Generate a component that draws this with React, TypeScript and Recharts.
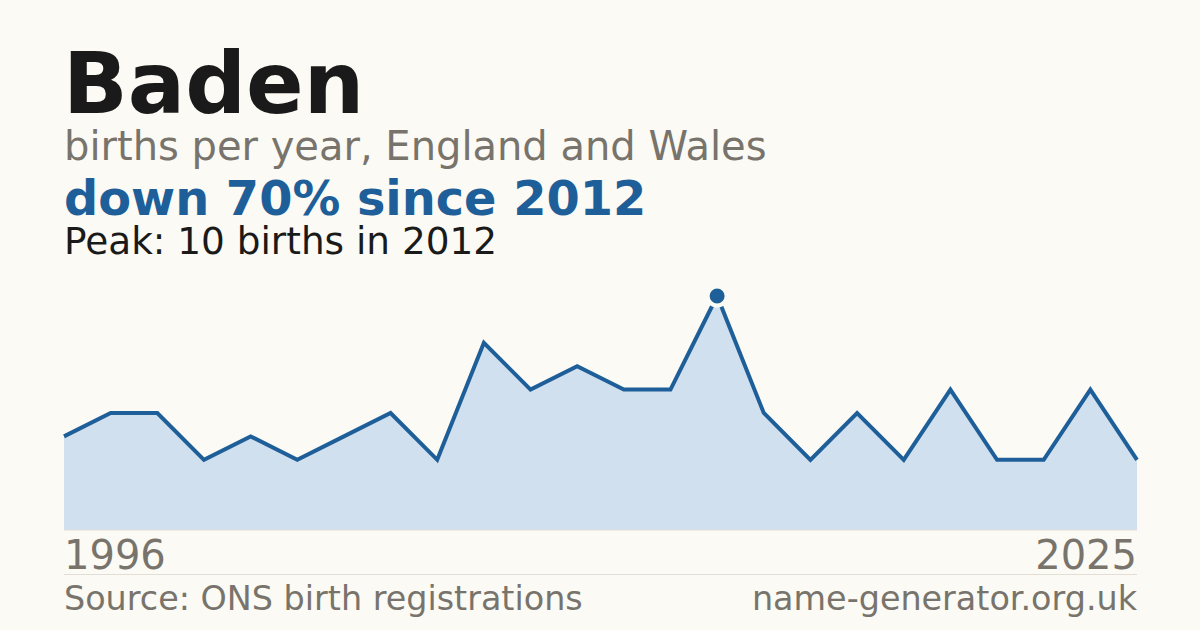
import React from "react";
import { AreaChart, Area, XAxis, YAxis } from "recharts";

const years: number[] = [
  1996, 1997, 1998, 2000, 2001, 2002, 2003, 2005, 2006, 2007, 2008, 2009,
  2010, 2011, 2012, 2013, 2015, 2016, 2018, 2019, 2020, 2022, 2023, 2025,
];

const births: number[] = [
  4, 5, 5, 3, 4, 3, 4, 5, 3, 8, 6, 7, 6, 6, 10, 5, 3, 5, 3, 6, 3, 3, 6, 3,
];

const xTicks: number[] = [1996, 2025];

const BG = "#fbfaf5";
const BLUE = "#1f5f99";
const FILL = "#d0e0ef";
const GREY = "#78746c";
const FONT = "'DejaVu Sans', sans-serif";

const data = years.map((year, i) => ({ year, births: births[i] }));
const peak = Math.max(...births);

const PeakDot = (props: any) => {
  const { cx, cy, payload } = props;
  if (!payload || payload.births !== peak) return null;
  return (
    <circle
      key={`dot-${payload.year}`}
      cx={cx}
      cy={cy}
      r={9.5}
      fill={BLUE}
      stroke={BG}
      strokeWidth={4}
    />
  );
};

const YearTick = (props: any) => {
  const { x, payload } = props;
  const first = payload.value === xTicks[0];
  return (
    <text
      x={x}
      y={569}
      textAnchor={first ? "start" : "end"}
      fontSize={40}
      fontFamily={FONT}
      fill={GREY}
    >
      {payload.value}
    </text>
  );
};

export default function App() {
  return (
    <div
      style={{
        position: "absolute",
        left: 0,
        top: 0,
        width: 1200,
        height: 630,
        background: BG,
        overflow: "hidden",
      }}
    >
      <AreaChart
        width={1200}
        height={630}
        data={data}
        margin={{ top: 296, right: 63, bottom: 0, left: 64 }}
      >
        <YAxis hide domain={[0, 10]} type="number" />
        <XAxis
          dataKey="year"
          type="category"
          ticks={xTicks}
          interval={0}
          tickLine={false}
          axisLine={{ stroke: "#e2ded6", strokeWidth: 1 }}
          tick={<YearTick />}
          height={100}
        />
        <Area
          type="linear"
          dataKey="births"
          stroke={BLUE}
          strokeWidth={4}
          fill={FILL}
          fillOpacity={1}
          dot={<PeakDot />}
          activeDot={false}
          isAnimationActive={false}
        />
      </AreaChart>
      <svg
        width={1200}
        height={630}
        style={{ position: "absolute", left: 0, top: 0, pointerEvents: "none" }}
      >
        <text x={63} y={113} fontSize={85} fontWeight="bold" fontFamily={FONT} fill="#1a1a1a">
          Baden
        </text>
        <text x={64} y={160} fontSize={40} fontFamily={FONT} fill={GREY}>
          births per year, England and Wales
        </text>
        <text x={64} y={215} fontSize={47.8} fontWeight="bold" fontFamily={FONT} fill={BLUE}>
          down 70% since 2012
        </text>
        <text x={64} y={254} fontSize={37.4} fontFamily={FONT} fill="#1a1a1a">
          Peak: 10 births in 2012
        </text>
        <line x1={64} x2={1137} y1={574.5} y2={574.5} stroke="#e2ded6" strokeWidth={1} />
        <text x={64} y={610} fontSize={33.4} fontFamily={FONT} fill={GREY}>
          Source: ONS birth registrations
        </text>
        <text x={1137} y={610} fontSize={33.4} fontFamily={FONT} fill={GREY} textAnchor="end">
          name-generator.org.uk
        </text>
      </svg>
    </div>
  );
}
